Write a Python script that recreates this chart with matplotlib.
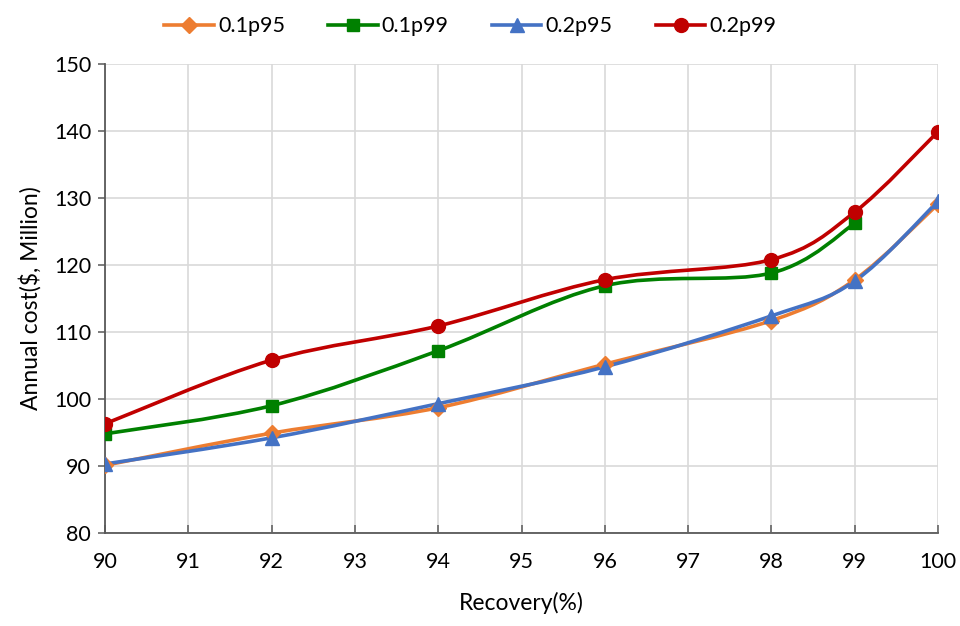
import numpy as np
import matplotlib
matplotlib.use("Agg")
import matplotlib.pyplot as plt
from matplotlib.path import Path
from matplotlib.patches import PathPatch
from matplotlib.lines import Line2D

plt.rcParams['font.family'] = ['Lato', 'DejaVu Sans']

recovery = [90, 92, 94, 96, 98, 99, 100]
cost_01p95 = [90.1, 94.9, 98.7, 105.2, 111.7, 117.8, 129.1]
cost_01p99 = [94.8, 99.0, 107.2, 116.9, 118.8, 126.2]
cost_02p95 = [90.3, 94.2, 99.3, 104.8, 112.4, 117.6, 129.5]
cost_02p99 = [96.3, 105.8, 110.9, 117.8, 120.8, 127.9, 139.9]

series = [
    ("0.1p95", cost_01p95, "#ED7D31", "D", 8),
    ("0.1p99", cost_01p99, "#008000", "s", 9),
    ("0.2p95", cost_02p95, "#4472C4", "^", 10),
    ("0.2p99", cost_02p99, "#C00000", "o", 10),
]

fig = plt.figure(figsize=(9.6, 6.26), dpi=100)
ax = fig.add_axes([0.1094, 0.1486, 0.8677, 0.7492])
ax.set_xlim(90, 100)
ax.set_ylim(80, 150)

# screen-ish scales (pixels per data unit) so the smoothing follows the drawn shape
sx, sy = 83.3, 6.7


def smooth_path(xs, ys):
    px = np.asarray(xs, float) * sx
    py = np.asarray(ys, float) * sy
    pts = np.column_stack([px, py])
    n = len(pts)
    verts = [pts[0]]
    codes = [Path.MOVETO]
    for i in range(n - 1):
        p0 = pts[i - 1] if i > 0 else pts[i]
        p1 = pts[i]
        p2 = pts[i + 1]
        p3 = pts[i + 2] if i + 2 < n else pts[i + 1]
        c1 = p1 + (p2 - p0) / 6.0
        c2 = p2 - (p3 - p1) / 6.0
        verts += [c1, c2, p2]
        codes += [Path.CURVE4] * 3
    verts = np.array(verts)
    verts[:, 0] /= sx
    verts[:, 1] /= sy
    return Path(verts, codes)


for name, vals, color, marker, ms in series:
    xs = recovery[:len(vals)]
    patch = PathPatch(smooth_path(xs, vals), facecolor="none",
                      edgecolor=color, lw=2.6, capstyle="round", zorder=3)
    ax.add_patch(patch)
    ax.plot(xs, vals, linestyle="none", marker=marker, markersize=ms,
            color=color, markeredgecolor=color, zorder=4)

ax.set_xticks(range(90, 101))
ax.set_yticks(range(80, 151, 10))
ax.grid(True, color="#D9D9D9", lw=1.2, zorder=0)
ax.set_axisbelow(True)
for s in ["top", "right"]:
    ax.spines[s].set_visible(False)
for s in ["left", "bottom"]:
    ax.spines[s].set_color("#595959")
    ax.spines[s].set_linewidth(1.3)
ax.tick_params(axis="x", direction="in", length=6, color="#595959",
               labelsize=15.5, pad=14, width=1.1)
ax.tick_params(axis="y", direction="out", length=5, color="#595959",
               labelsize=15.5, pad=5, width=1.1)
ax.set_xlabel("Recovery(%)", fontsize=16.5, labelpad=14)
ax.set_ylabel("Annual cost($, Million)", fontsize=16.5, labelpad=9)

handles = [Line2D([], [], color=c, lw=2.6, marker=m, markersize=ms)
           for _, _, c, m, ms in series]
fig.legend(handles, [s[0] for s in series], loc="upper center",
           bbox_to_anchor=(0.49, 1.005), ncol=4, frameon=False, fontsize=15.5,
           handlelength=2.3, columnspacing=2.0, handletextpad=0.2)

fig.savefig("out.png", dpi=100)
